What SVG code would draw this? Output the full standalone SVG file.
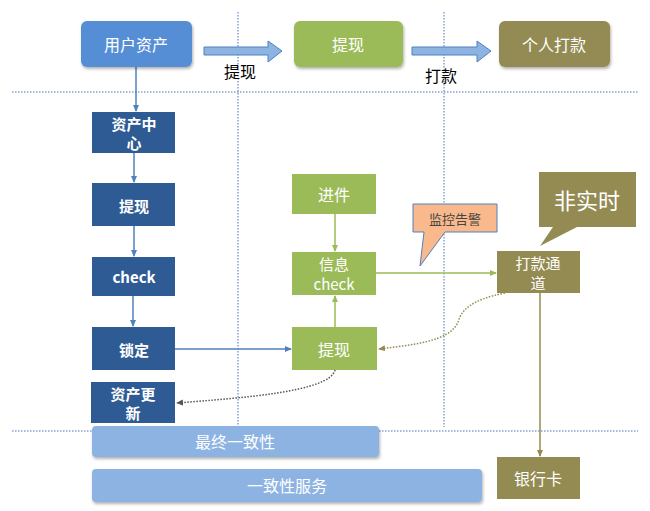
<svg xmlns="http://www.w3.org/2000/svg" width="650" height="511" viewBox="0 0 650 511">
<style>
text{font-family:"Noto Sans CJK SC","Noto Sans",sans-serif;text-anchor:middle;dominant-baseline:central}
.w{fill:#fff;font-size:16px}
.w2{fill:#fff;font-size:15px}
.wb{fill:#fff;font-size:15px;font-weight:bold}
.blk{fill:#000;font-size:16px}
.dk{fill:#2f5b94}
.gr{fill:#9bbb59}
.ol{fill:#938b52}
.grid{stroke:#4a72b8;stroke-width:1;stroke-dasharray:1.5 1.5;fill:none}
.bar{fill:#8db3e2}
</style>
<defs>
<filter id="sh" x="-10%" y="-10%" width="130%" height="140%"><feDropShadow dx="1" dy="2" stdDeviation="1.5" flood-color="#000" flood-opacity="0.3"/></filter>
<marker id="ab" markerWidth="8" markerHeight="8" refX="6" refY="4" orient="auto" markerUnits="userSpaceOnUse"><path d="M0,1 L7,4 L0,7 Z" fill="#4f81bd"/></marker>
<marker id="ag" markerWidth="8" markerHeight="8" refX="6" refY="4" orient="auto" markerUnits="userSpaceOnUse"><path d="M0,1 L7,4 L0,7 Z" fill="#9bbb59"/></marker>
<marker id="ao" markerWidth="8" markerHeight="8" refX="6" refY="4" orient="auto" markerUnits="userSpaceOnUse"><path d="M0,1 L7,4 L0,7 Z" fill="#938b52"/></marker>
<marker id="ak" markerWidth="8" markerHeight="8" refX="6" refY="4" orient="auto" markerUnits="userSpaceOnUse"><path d="M0,1 L7,4 L0,7 Z" fill="#555"/></marker>
</defs>
<rect width="650" height="511" fill="#fff"/>
<g id="grid">
<line class="grid" x1="12" y1="92" x2="638" y2="92"/>
<line class="grid" x1="12" y1="431" x2="92" y2="431"/>
<line class="grid" x1="379" y1="431" x2="638" y2="431"/>
<line class="grid" x1="238" y1="12" x2="238" y2="425"/>
<line class="grid" x1="444" y1="12" x2="444" y2="427"/>
</g>
<g id="bars">
<g id="bar-final"><rect class="bar" x="92" y="426" width="287" height="31" rx="4" filter="url(#sh)"/><text class="w" x="235" y="441">最终一致性</text></g>
<g id="bar-service"><rect class="bar" x="92" y="469" width="390" height="33" rx="4" filter="url(#sh)"/><text class="w" x="287" y="485">一致性服务</text></g>
</g>
<g id="connectors" fill="none">
<path d="M204,47 H268 V41 L282,51 L268,62 V55 H204 Z" fill="#8db3e2" stroke="#4f81bd" stroke-width="1"/>
<path d="M412,47 H477 V41 L491,51 L477,62 V55 H412 Z" fill="#8db3e2" stroke="#4f81bd" stroke-width="1"/>
<line x1="136" y1="67" x2="136" y2="111" stroke="#4f81bd" stroke-width="1.5" marker-end="url(#ab)"/>
<line x1="134" y1="153" x2="134" y2="182" stroke="#4f81bd" stroke-width="1.5" marker-end="url(#ab)"/>
<line x1="134" y1="226" x2="134" y2="256" stroke="#4f81bd" stroke-width="1.5" marker-end="url(#ab)"/>
<line x1="133" y1="296" x2="133" y2="326" stroke="#4f81bd" stroke-width="1.5" marker-end="url(#ab)"/>
<line x1="175" y1="349" x2="291" y2="349" stroke="#4f81bd" stroke-width="1.5" marker-end="url(#ab)"/>
<line x1="335" y1="214" x2="335" y2="251" stroke="#9bbb59" stroke-width="1.5" marker-end="url(#ag)"/>
<line x1="335" y1="327" x2="335" y2="296" stroke="#9bbb59" stroke-width="1.5" marker-end="url(#ag)"/>
<line x1="376" y1="273" x2="496" y2="273" stroke="#9bbb59" stroke-width="1.5" marker-end="url(#ag)"/>
<line x1="540" y1="293" x2="540" y2="456" stroke="#938b52" stroke-width="1.5" marker-end="url(#ao)"/>
<path d="M505,293 C470,300 462,310 458,322 C450,342 410,345 379,349" stroke="#938b52" stroke-width="1.5" stroke-dasharray="1.5 1.5" marker-end="url(#ao)"/>
<path d="M335,370 C330,392 240,398 177,403" stroke="#555" stroke-width="1.5" stroke-dasharray="1.5 1.5" marker-end="url(#ak)"/>
</g>
<g id="n-user"><rect x="81" y="21" width="111" height="46" rx="6" fill="#558ed5" filter="url(#sh)"/><text class="w" x="136" y="44">用户资产</text></g>
<g id="n-withdraw-top"><rect x="294" y="21" width="109" height="46" rx="6" fill="#9bbb59" filter="url(#sh)"/><text class="w" x="348" y="44">提现</text></g>
<g id="n-personal"><rect x="499" y="21" width="111" height="46" rx="6" fill="#938b52" filter="url(#sh)"/><text class="w" x="554" y="44">个人打款</text></g>
<text class="blk" x="240" y="71">提现</text>
<text class="blk" x="441" y="75">打款</text>
<g id="n-asset-center"><rect class="dk" x="92" y="112" width="83" height="41"/><text class="wb" x="134" y="123">资产中</text><text class="wb" x="134" y="142">心</text></g>
<g id="n-withdraw"><rect class="dk" x="92" y="183" width="83" height="43"/><text class="wb" x="134" y="205">提现</text></g>
<g id="n-check"><rect class="dk" x="92" y="257" width="83" height="39"/><text class="wb" x="134" y="276">check</text></g>
<g id="n-lock"><rect class="dk" x="92" y="327" width="83" height="43"/><text class="wb" x="134" y="349">锁定</text></g>
<g id="n-asset-update"><rect class="dk" x="91" y="382" width="84" height="41"/><text class="wb" x="133" y="393">资产更</text><text class="wb" x="133" y="412">新</text></g>
<g id="n-incoming"><rect class="gr" x="292" y="174" width="84" height="40"/><text class="w" x="334" y="194">进件</text></g>
<g id="n-info-check"><rect class="gr" x="292" y="252" width="84" height="43"/><text class="w2" x="334" y="263">信息</text><text class="w2" x="334" y="283">check</text></g>
<g id="n-withdraw-g"><rect class="gr" x="292" y="327" width="85" height="43"/><text class="w" x="334" y="349">提现</text></g>
<g id="n-channel"><rect class="ol" x="497" y="251" width="83" height="42"/><text class="w2" x="538" y="262">打款通</text><text class="w2" x="538" y="282">道</text></g>
<g id="n-bank"><rect class="ol" x="497" y="457" width="83" height="42"/><text class="w" x="538" y="478">银行卡</text></g>
<g id="callout-monitor"><path d="M413,204 H497 V232 H445 L420,266 L424,232 H413 Z" fill="#fab98c" stroke="#4f81bd" stroke-width="1"/><text x="455" y="218" fill="#444" font-size="13">监控告警</text></g>
<g id="callout-nonrt"><path d="M539,172 H636 V227 H577 L540,246 L553,227 H539 Z" fill="#938b52"/><text x="587" y="199" fill="#fff" font-size="22">非实时</text></g>
</svg>
